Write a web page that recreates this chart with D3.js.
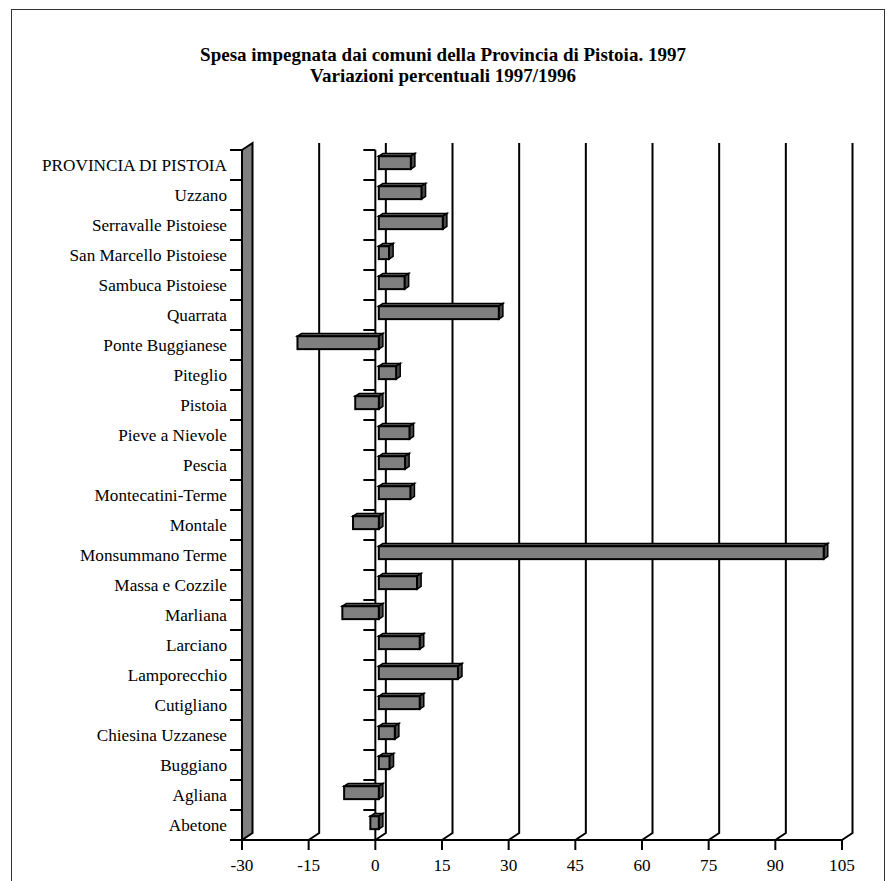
<!DOCTYPE html>
<html>
<head>
  <title>Spesa impegnata - Provincia di Pistoia</title>
  <script src="https://d3js.org/d3.v7.min.js"></script>
  <style>
    body { margin: 0; background: #fff; }
    text { font-family: "Liberation Serif", "Times New Roman", serif; fill: #000; }
  </style>
</head>
<body>
<div id="chart"></div>
<script>
  // data
  const categories = ["PROVINCIA DI PISTOIA", "Uzzano", "Serravalle Pistoiese", "San Marcello Pistoiese",
    "Sambuca Pistoiese", "Quarrata", "Ponte Buggianese", "Piteglio", "Pistoia", "Pieve a Nievole",
    "Pescia", "Montecatini-Terme", "Montale", "Monsummano Terme", "Massa e Cozzile", "Marliana",
    "Larciano", "Lamporecchio", "Cutigliano", "Chiesina Uzzanese", "Buggiano", "Agliana", "Abetone"];
  const values = [7.2, 9.6, 14.4, 2.3, 5.8, 27.0, -18.3, 3.9, -5.3, 6.9, 5.9, 7.1, -5.8,
    100.1, 8.6, -8.2, 9.2, 17.8, 9.2, 3.6, 2.4, -7.8, -1.9];
  const xTicks = [-30, -15, 0, 15, 30, 45, 60, 75, 90, 105];
  const titleLines = ["Spesa impegnata dai comuni della Provincia di Pistoia. 1997",
    "Variazioni percentuali 1997/1996"];

  const width = 887, height = 881;
  const depth = { dx: 10.5, dy: -7 };   // 3d offset of the back wall
  const fontSize = 17.2;

  const svg = d3.select("#chart").append("svg")
    .attr("width", width)
    .attr("height", height);

  // outer frame
  svg.append("rect")
    .attr("x", 11.5).attr("y", 9.5)
    .attr("width", 873).attr("height", 900)
    .attr("fill", "none").attr("stroke", "#333").attr("stroke-width", 1);

  // title
  svg.selectAll(".title").data(titleLines).enter().append("text")
    .attr("x", 443)
    .attr("y", (d, i) => 61 + i * 21)
    .attr("text-anchor", "middle")
    .attr("font-weight", "bold")
    .attr("font-size", 19)
    .text(d => d);

  const xScale = d3.scaleLinear().domain([-30, 105]).range([242, 842]);
  const yScale = d3.scaleBand().domain(categories).range([150, 840]);
  const x0 = xScale(0), y1 = yScale.range()[1], yTop = yScale.range()[0];

  // back wall gridlines with the small floor slant
  svg.selectAll(".grid").data(xTicks.slice(1)).enter().append("path")
    .attr("d", d => {
      const x = xScale(d);
      return `M${x},${y1}L${x + depth.dx},${y1 + depth.dy}L${x + depth.dx},${yTop + depth.dy}`;
    })
    .attr("fill", "none").attr("stroke", "#000").attr("stroke-width", 2);

  // left side wall
  const xl = xScale(-30);
  svg.append("path")
    .attr("d", `M${xl},${y1}L${xl + depth.dx},${y1 + depth.dy}L${xl + depth.dx},${yTop + depth.dy}L${xl},${yTop}Z`)
    .attr("fill", "#808080").attr("stroke", "#000").attr("stroke-width", 2);

  // category ticks at band boundaries, on the wall and at zero
  const bounds = categories.map(c => yScale(c)).concat([y1]);
  [xl, x0].forEach(xx => {
    svg.selectAll(null).data(bounds).enter().append("line")
      .attr("x1", xx - 12).attr("x2", xx)
      .attr("y1", d => d).attr("y2", d => d)
      .attr("stroke", "#000").attr("stroke-width", 2);
  });

  // front category axis at zero
  svg.append("line")
    .attr("x1", x0).attr("x2", x0).attr("y1", yTop).attr("y2", y1)
    .attr("stroke", "#000").attr("stroke-width", 2);

  // value axis
  svg.append("line")
    .attr("x1", xl).attr("x2", xScale(105)).attr("y1", y1).attr("y2", y1)
    .attr("stroke", "#000").attr("stroke-width", 2);
  svg.selectAll(".xtick").data(xTicks).enter().append("line")
    .attr("x1", d => xScale(d)).attr("x2", d => xScale(d))
    .attr("y1", y1).attr("y2", y1 + 10)
    .attr("stroke", "#000").attr("stroke-width", 2);
  svg.selectAll(".xlabel").data(xTicks).enter().append("text")
    .attr("x", d => xScale(d))
    .attr("y", y1 + 31)
    .attr("text-anchor", "middle")
    .attr("font-size", fontSize)
    .text(d => d);

  // category labels
  svg.selectAll(".ylabel").data(categories).enter().append("text")
    .attr("x", 227)
    .attr("y", d => yScale(d) + yScale.bandwidth() / 2)
    .attr("dy", "0.33em")
    .attr("text-anchor", "end")
    .attr("font-size", fontSize)
    .text(d => d);

  // 3d bars: front face sits part way into the depth
  const f0 = 0.33, f1 = 0.72;
  const barH = yScale.bandwidth() * 0.43;
  const bars = svg.selectAll(".bar").data(categories).enter().append("g");

  bars.each(function(c, i) {
    const g = d3.select(this);
    const v = values[i];
    const xa = Math.min(xScale(v), x0) + depth.dx * f0;
    const xb = Math.max(xScale(v), x0) + depth.dx * f0;
    const yt = yScale(c) + yScale.bandwidth() / 2 - barH / 2 + depth.dy * f0;
    const yb = yt + barH;
    const ddx = depth.dx * (f1 - f0), ddy = depth.dy * (f1 - f0);

    // top face
    g.append("path")
      .attr("d", `M${xa},${yt}L${xa + ddx},${yt + ddy}L${xb + ddx},${yt + ddy}L${xb},${yt}Z`)
      .attr("fill", "#666").attr("stroke", "#000").attr("stroke-width", 1.5);
    // right side
    g.append("path")
      .attr("d", `M${xb},${yt}L${xb + ddx},${yt + ddy}L${xb + ddx},${yb + ddy}L${xb},${yb}Z`)
      .attr("fill", "#4a4a4a").attr("stroke", "#000").attr("stroke-width", 1.5);
    // front face
    g.append("rect")
      .attr("x", xa).attr("y", yt)
      .attr("width", xb - xa).attr("height", barH)
      .attr("fill", "#808080").attr("stroke", "#000").attr("stroke-width", 2);
  });
</script>
</body>
</html>
